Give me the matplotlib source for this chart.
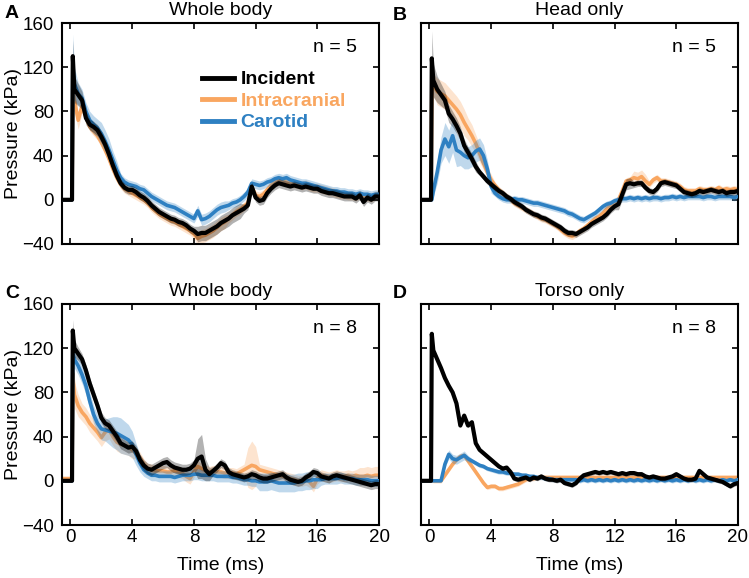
import numpy as np
import matplotlib
matplotlib.use("Agg")
import matplotlib.pyplot as plt

plt.rcParams['font.family'] = ['Liberation Sans', 'DejaVu Sans']
plt.rcParams['font.size'] = 14

# time grid (ms): pre-trigger, onset, peak, then every 0.25 ms
time_ms = [-0.55, 0.1, 0.15] + [0.25 * k for k in range(1, 81)]

# ---- A: whole body (n = 5) ----
inc_a = [0, 0, 130,
         100, 95, 90, 74, 68, 66, 63, 57, 50, 41, 31, 22, 15, 11, 9, 9,
         7, 4, 2, -1, -5, -8, -11, -13, -15, -17, -18, -20, -21, -23, -26, -28,
         -31, -30, -30, -28, -26, -24, -21, -19, -17, -14, -12, -10, -8, -5, 12, 2,
         -1, 0, 6, 10, 13, 15, 14, 13, 12, 13, 12, 11, 12, 11, 10, 10,
         8, 7, 6, 6, 5, 4, 3, 3, 3, 1, 4, -2, 2, 0, 3, 3]
icp_a = [0, 0, 100,
         90, 72, 85, 75, 66, 62, 58, 52, 45, 37, 28, 20, 14, 10, 8, 6,
         4, 2, 0, -3, -7, -10, -13, -15, -17, -19, -20, -22, -24, -26, -28, -31,
         -35, -33, -32, -30, -28, -25, -22, -20, -17, -14, -11, -9, -6, -3, 12, 4,
         3, 5, 9, 13, 16, 18, 17, 16, 15, 15, 14, 13, 14, 12, 11, 11,
         10, 9, 8, 7, 6, 5, 5, 4, 4, 3, 5, 2, 3, 2, 4, 4]
car_a = [0, 0, 120,
         105, 96, 92, 80, 72, 68, 65, 60, 53, 45, 36, 27, 20, 16, 14, 13,
         12, 10, 9, 6, 3, 1, -1, -3, -5, -6, -7, -9, -11, -13, -15, -17,
         -10, -18, -17, -15, -12, -9, -7, -6, -5, -3, -2, 0, 3, 7, 15, 14,
         13, 14, 16, 17, 19, 20, 19, 20, 18, 17, 16, 15, 15, 14, 13, 12,
         11, 10, 9, 8, 8, 7, 7, 6, 6, 5, 6, 5, 5, 4, 5, 5]
inc_a_sd = [1, 1, 15, 12, 10, 8, 6] + [5] * 8 + [4] * 20 + [7] * 12 + [4] * 36
icp_a_sd = [1, 1, 10, 10, 8, 6, 5] + [4] * 28 + [6] * 8 + [4] * 40
car_a_sd = [1, 1, 30, 15, 10, 8, 8] + [8, 8, 8, 10, 10, 10, 8, 8] + [4] * 20 + [5] * 8 + [4] * 40

# ---- B: head only (n = 5) ----
inc_b = [0, 0, 128,
         108, 100, 95, 90, 78, 73, 67, 60, 49, 43, 37, 30, 25, 21, 17, 14,
         11, 8, 6, 3, 1, -2, -4, -6, -9, -11, -13, -14, -16, -17, -19, -21,
         -23, -25, -28, -30, -30, -31, -29, -27, -25, -22, -20, -18, -16, -13, -9, -6,
         -4, 5, 14, 15, 14, 15, 15, 11, 8, 7, 10, 15, 16, 15, 14, 13,
         10, 7, 6, 5, 6, 8, 7, 8, 9, 8, 7, 8, 6, 7, 7, 8]
icp_b = [0, 0, 100,
         104, 98, 96, 94, 90, 86, 82, 77, 70, 64, 58, 51, 42, 33, 25, 18,
         13, 9, 6, 3, 0, -3, -5, -7, -9, -11, -13, -15, -17, -18, -20, -22,
         -24, -27, -30, -32, -33, -31, -28, -26, -23, -20, -17, -15, -12, -8, -5, -2,
         0, 8, 17, 18, 20, 19, 21, 17, 14, 18, 20, 17, 17, 16, 15, 14,
         12, 9, 8, 8, 8, 10, 9, 9, 10, 9, 11, 9, 10, 9, 10, 9]
car_b = [0, 0, 0,
         8, 25, 45, 55, 48, 58, 45, 43, 40, 38, 40, 44, 46, 40, 28, 12,
         6, 3, 1, 0, 0, 1, 0, 0, -1, -2, -3, -3, -4, -5, -6, -7,
         -8, -9, -10, -12, -13, -15, -17, -18, -16, -14, -12, -9, -6, -4, -3, -1,
         0, 1, 1, 2, 1, 2, 1, 2, 1, 2, 2, 1, 2, 2, 3, 2,
         3, 2, 3, 3, 3, 3, 2, 3, 3, 2, 3, 3, 3, 3, 2, 3]
inc_b_sd = [1, 1, 25, 15, 12, 10, 8, 8, 7, 7, 6, 6, 5, 5, 5] + [3] * 36 + [5] * 4 + [3] * 28
icp_b_sd = [1, 1, 15, 10, 12, 12, 12, 12, 12, 12, 12, 12, 10, 10, 8, 8, 6, 5, 5] + [3] * 36 + [6] * 4 + [3] * 24
car_b_sd = [1, 1, 1, 5, 10, 12, 15, 15, 15, 15, 12, 12, 10, 10, 10, 10, 10, 8, 6] + [3] * 64

# ---- C: whole body (n = 8) ----
inc_c = [0, 0, 136,
         120, 115, 110, 100, 88, 78, 68, 57, 52, 50, 45, 40, 34, 32, 30, 31,
         27, 19, 14, 11, 10, 12, 14, 16, 17, 14, 12, 11, 10, 10, 11, 14,
         20, 22, 10, 6, 9, 12, 16, 14, 8, 6, 5, 4, 3, 4, 6, 5,
         3, 2, 2, 3, 4, 5, 6, 3, 1, 0, -1, 0, 3, 5, 8, 7,
         4, 3, 2, 4, 5, 4, 3, 2, 1, 0, -1, -2, -3, -4, -3, -3]
icp_c = [2, 2, 97,
         78, 68, 62, 58, 52, 48, 44, 39, 44, 46, 40, 35, 33, 32, 31, 28,
         25, 21, 15, 11, 10, 9, 9, 9, 8, 8, 9, 8, 7, 4, 2, 8,
         13, 11, 9, 8, 9, 8, 8, 7, 7, 7, 6, 8, 10, 12, 14, 13,
         10, 9, 8, 7, 6, 5, 4, 3, 2, 1, 0, 0, 1, -1, -5, 2,
         5, 4, 3, 4, 5, 4, 4, 5, 4, 5, 4, 4, 5, 4, 5, 5]
car_c = [0, 0, 115,
         110, 104, 96, 86, 72, 60, 52, 47, 46, 45, 44, 43, 41, 39, 37, 33,
         24, 16, 10, 7, 5, 5, 4, 4, 4, 4, 3, 4, 5, 5, 5, 6,
         6, 5, 5, 5, 5, 4, 4, 4, 4, 3, 3, 2, 1, 1, 0, 0,
         -1, -1, -1, 0, -1, -2, -2, -2, -2, -2, -1, -1, 0, 0, 1, 1,
         1, 2, 2, 2, 2, 3, 2, 2, 2, 1, 1, 1, 1, 0, 0, 0]
inc_c_sd = [1, 1, 10, 8, 6, 5, 5] + [5] * 28 + [18, 20, 10, 6] + [4] * 44
icp_c_sd = [2, 2, 10, 12, 10, 8, 8] + [8] * 12 + [5] * 29 + [18, 22, 18] + [5] * 26 + [8] * 6
car_c_sd = [1, 1, 10, 8, 8, 8, 8, 8, 8, 8, 10, 10, 12, 14, 15, 16, 15, 14, 12,
            10, 8, 6, 5] + [5] * 28 + [8] * 16 + [5] * 16

# ---- D: torso only (n = 8) ----
inc_d = [0, 0, 133,
         118, 110, 102, 93, 86, 80, 70, 50, 59, 50, 53, 34, 28, 25, 22, 19,
         16, 13, 11, 12, 8, 2, 1, 2, 3, 1, 3, 2, 4, 2, 1, 1,
         0, 1, -2, -3, -4, -2, 2, 5, 6, 7, 8, 7, 8, 7, 8, 7,
         6, 7, 6, 7, 7, 6, 6, 4, 3, 4, 3, 2, 2, 3, 4, 6,
         4, 2, 1, 1, 2, 9, 6, 3, 2, 1, 0, -1, -3, -5, -3, -2]
icp_d = [0, 0, 0,
         0, 0, 0, 5, 10, 15, 19, 22, 23, 18, 13, 8, 3, -2, -6, -5,
         -5, -7, -7, -6, -5, -4, -3, -1, 1, 2, 2, 3, 3, 3, 3, 3,
         3, 3, 3, 3, 3, 3, 3, 3, 3, 3, 3, 3, 3, 3, 3, 3,
         3, 3, 3, 3, 3, 3, 3, 3, 3, 3, 3, 3, 3, 3, 3, 3,
         3, 3, 3, 3, 3, 3, 3, 3, 3, 3, 3, 3, 3, 3, 3, 3]
car_d = [0, 0, 0,
         0, 0, 0, 15, 24, 20, 19, 21, 23, 20, 18, 16, 14, 13, 11, 10,
         9, 8, 8, 7, 7, 6, 6, 5, 5, 4, 4, 3, 3, 2, 2, 1,
         1, 1, 1, 1, 1, 1, 0, 1, 0, 1, 0, 1, 0, 1, 0, 1,
         0, 1, 0, 1, 0, 1, 0, 1, 0, 1, 0, 1, 0, 1, 0, 1,
         0, 1, 0, 1, 0, 1, 0, 1, 0, 1, 0, 1, 0, 1, 0, 1]
inc_d_sd = [1, 1, 4] + [2] * 80
icp_d_sd = [1, 1, 1] + [2] * 80
car_d_sd = [1, 1, 1, 1, 1, 1, 3, 4, 4, 4, 4, 4, 3] + [2] * 70

panels = [
    ("A", "Whole body", "n = 5", (inc_a, inc_a_sd), (icp_a, icp_a_sd), (car_a, car_a_sd)),
    ("B", "Head only", "n = 5", (inc_b, inc_b_sd), (icp_b, icp_b_sd), (car_b, car_b_sd)),
    ("C", "Whole body", "n = 8", (inc_c, inc_c_sd), (icp_c, icp_c_sd), (car_c, car_c_sd)),
    ("D", "Torso only", "n = 8", (inc_d, inc_d_sd), (icp_d, icp_d_sd), (car_d, car_d_sd)),
]

c_inc = "black"
c_icp = "#F9A660"
c_car = "#2E80C2"

W, H = 749, 578
fig = plt.figure(figsize=(W / 100, H / 100), dpi=100)

# axes boxes in pixels: left, top
boxes = [(62, 23), (421, 23), (62, 304), (421, 304)]
aw, ah = 317, 221
letter_xy = [(5, 13), (393, 15), (5, 293), (393, 293)]

t = np.array(time_ms)
for i, (letter, title, ntext, inc, icp, car) in enumerate(panels):
    lx, ty = boxes[i]
    ax = fig.add_axes([lx / W, 1 - (ty + ah) / H, aw / W, ah / H])

    for (vals, sd), col, lw, z in [(icp, c_icp, 2.6, 2), (car, c_car, 2.6, 3), (inc, c_inc, 3.0, 4)]:
        v = np.array(vals, dtype=float)
        s = np.array(sd, dtype=float)
        ax.fill_between(t, v - s, v + s, color=col, alpha=0.3, lw=0, zorder=z - 1)
        ax.plot(t, v, color=col, lw=lw, zorder=z)

    ax.set_xlim(-0.55, 20)
    ax.set_ylim(-40, 160)
    ax.set_xticks([0, 4, 8, 12, 16, 20])
    ax.set_yticks([-40, 0, 40, 80, 120, 160])
    ax.tick_params(direction="in", top=True, right=True, length=4, width=1.2,
                   labelsize=13.5, pad=3)
    ax.tick_params(axis="y", pad=6)
    for sp in ax.spines.values():
        sp.set_linewidth(1.5)
    if i % 2 == 1:
        ax.tick_params(labelleft=False)
    else:
        ax.set_ylabel("Pressure (kPa)", fontsize=14, labelpad=0)
    if i < 2:
        ax.tick_params(labelbottom=False)
    else:
        ax.set_xlabel("Time (ms)", fontsize=14, labelpad=8)
    ax.set_title(title, fontsize=14, pad=6)
    ax.text(0.93, 0.89, ntext, transform=ax.transAxes, ha="right", va="center", fontsize=14)

    fx, fy = letter_xy[i]
    fig.text(fx / W, 1 - fy / H, letter, fontsize=14, fontweight="bold", ha="left", va="center")

    if i == 0:
        h_inc, = ax.plot([], [], color=c_inc, lw=3.5)
        h_icp, = ax.plot([], [], color=c_icp, lw=3.5)
        h_car, = ax.plot([], [], color=c_car, lw=3.5)
        leg = ax.legend([h_inc, h_icp, h_car], ["Incident", "Intracranial", "Carotid"],
                        loc="upper left", bbox_to_anchor=(0.40, 0.845), frameon=False,
                        handlelength=1.65, handletextpad=0.3, labelspacing=0.2,
                        borderaxespad=0.3, prop={"weight": "bold", "size": 14})
        for txt, col in zip(leg.get_texts(), [c_inc, c_icp, c_car]):
            txt.set_color(col)

fig.savefig("out.png", dpi=100)
